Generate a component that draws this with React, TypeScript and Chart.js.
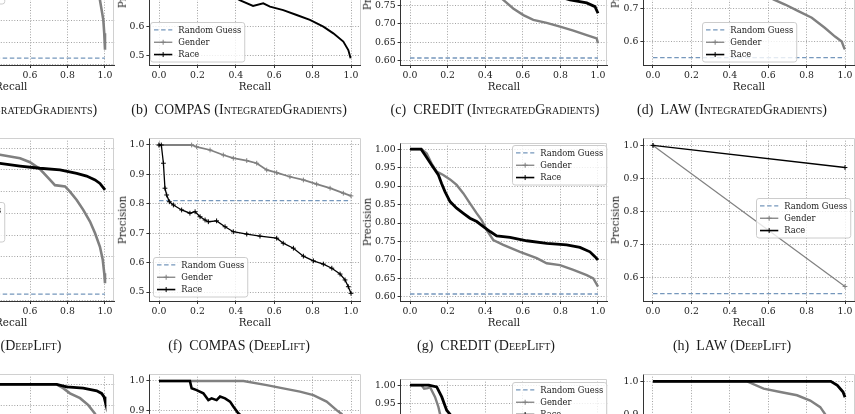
import { useEffect, useRef } from "react";
import { Chart, registerables } from "chart.js";

Chart.register(...registerables);

type Pt = [number, number];

// Recall ticks shared by every panel
const recallTicks = [0, 0.2, 0.4, 0.6, 0.8, 1.0];

// Precision ticks per dataset
const adultTicks = [0.65, 0.7, 0.75, 0.8, 0.85, 0.9, 0.95, 1.0];
const compasTicks = [0.5, 0.6, 0.7, 0.8, 0.9, 1.0];
const creditTicks = [0.6, 0.65, 0.7, 0.75, 0.8, 0.85, 0.9, 0.95, 1.0];
const lawTicks = [0.6, 0.7, 0.8, 0.9, 1.0];

// Precision of a random guess (share of positives) per dataset
const adultGuess = 0.664;
const compasGuess = 0.8105;
const creditGuess = 0.608;
const lawGuess = 0.5515;

// Precision-recall curves, [recall, precision]
const adultIgGender: Pt[] = [[0, 1.0], [0.04, 1.0], [0.12, 0.996], [0.25, 0.99], [0.4, 0.98], [0.55, 0.965], [0.68, 0.945], [0.78, 0.92], [0.86, 0.89], [0.92, 0.855], [0.955, 0.825], [0.973, 0.798], [0.982, 0.775], [0.991, 0.752], [0.996, 0.721], [1.0, 0.683]];
const adultIgRace: Pt[] = [[0, 1.0], [0.06, 0.995], [0.2, 0.988], [0.4, 0.978], [0.6, 0.965], [0.8, 0.948], [0.92, 0.93], [0.98, 0.91], [1.0, 0.885]];

const compasIgGender: Pt[] = [[0, 1.0], [0.12, 1.0], [0.2, 0.99], [0.35, 0.965], [0.5, 0.94], [0.65, 0.91], [0.8, 0.88], [0.9, 0.86], [1.0, 0.835]];
const compasIgRace: Pt[] = [[0, 1.0], [0.012, 1.0], [0.03, 0.87], [0.06, 0.81], [0.12, 0.785], [0.2, 0.765], [0.3, 0.735], [0.38, 0.705], [0.42, 0.689], [0.49, 0.669], [0.543, 0.678], [0.578, 0.667], [0.647, 0.655], [0.717, 0.638], [0.786, 0.621], [0.856, 0.598], [0.908, 0.575], [0.96, 0.547], [0.986, 0.518], [0.998, 0.49]];

const creditIgGender: Pt[] = [[0, 1.0], [0.05, 1.0], [0.1, 0.975], [0.2, 0.925], [0.3, 0.87], [0.38, 0.82], [0.45, 0.785], [0.496, 0.765], [0.549, 0.742], [0.603, 0.724], [0.656, 0.711], [0.727, 0.703], [0.798, 0.693], [0.869, 0.682], [0.94, 0.67], [0.993, 0.661], [1.0, 0.648]];
const creditIgRace: Pt[] = [[0, 1.0], [0.06, 1.0], [0.15, 0.96], [0.3, 0.9], [0.45, 0.85], [0.6, 0.81], [0.72, 0.785], [0.851, 0.765], [0.94, 0.757], [0.984, 0.747], [1.0, 0.729]];

const lawIgGender: Pt[] = [[0, 1.0], [0.1, 0.975], [0.2, 0.94], [0.3, 0.9], [0.4, 0.84], [0.5, 0.78], [0.627, 0.7275], [0.688, 0.712], [0.757, 0.692], [0.827, 0.672], [0.896, 0.641], [0.948, 0.615], [0.983, 0.6], [0.996, 0.58], [1.0, 0.576]];
const lawIgRace: Pt[] = [[0, 1.0], [0.3, 0.99], [0.6, 0.975], [0.85, 0.96], [1.0, 0.94]];

const adultDlGender: Pt[] = [[0, 1.0], [0.1, 0.998], [0.25, 0.993], [0.44, 0.985], [0.547, 0.977], [0.6, 0.968], [0.653, 0.952], [0.707, 0.927], [0.733, 0.915], [0.787, 0.912], [0.813, 0.9], [0.849, 0.881], [0.884, 0.858], [0.92, 0.831], [0.947, 0.804], [0.973, 0.773], [0.988, 0.743], [0.996, 0.712], [1.0, 0.689]];
const adultDlRace: Pt[] = [[0, 1.0], [0.02, 0.99], [0.1, 0.98], [0.25, 0.972], [0.44, 0.965], [0.547, 0.959], [0.653, 0.954], [0.76, 0.95], [0.849, 0.942], [0.902, 0.936], [0.947, 0.927], [0.973, 0.919], [1.0, 0.904]];

const compasDlGender: Pt[] = [[0, 1.0], [0.17, 1.0], [0.196, 0.994], [0.266, 0.983], [0.335, 0.966], [0.387, 0.955], [0.457, 0.947], [0.509, 0.938], [0.561, 0.915], [0.613, 0.906], [0.682, 0.892], [0.752, 0.881], [0.821, 0.867], [0.891, 0.853], [0.96, 0.836], [1.0, 0.827]];
const compasDlRace: Pt[] = [[0, 1.0], [0.012, 1.0], [0.023, 0.938], [0.031, 0.853], [0.04, 0.83], [0.054, 0.807], [0.075, 0.796], [0.118, 0.779], [0.161, 0.768], [0.188, 0.773], [0.214, 0.756], [0.24, 0.745], [0.257, 0.739], [0.3, 0.742], [0.344, 0.722], [0.387, 0.705], [0.457, 0.697], [0.526, 0.69], [0.613, 0.683], [0.647, 0.666], [0.7, 0.649], [0.752, 0.622], [0.804, 0.606], [0.856, 0.595], [0.9, 0.581], [0.943, 0.561], [0.969, 0.541], [0.986, 0.518], [1.0, 0.4955]];

const creditDlGender: Pt[] = [[0, 1.0], [0.062, 1.0], [0.089, 0.988], [0.115, 0.961], [0.142, 0.939], [0.177, 0.93], [0.213, 0.918], [0.248, 0.903], [0.284, 0.88], [0.319, 0.853], [0.355, 0.826], [0.381, 0.808], [0.408, 0.781], [0.443, 0.754], [0.496, 0.741], [0.585, 0.722], [0.674, 0.705], [0.727, 0.691], [0.798, 0.686], [0.869, 0.673], [0.94, 0.659], [0.975, 0.65], [1.0, 0.628]];
const creditDlRace: Pt[] = [[0, 1.0], [0.059, 1.0], [0.08, 0.984], [0.115, 0.957], [0.151, 0.93], [0.168, 0.907], [0.186, 0.885], [0.213, 0.858], [0.248, 0.84], [0.284, 0.826], [0.319, 0.813], [0.355, 0.804], [0.39, 0.79], [0.426, 0.777], [0.461, 0.765], [0.532, 0.761], [0.621, 0.752], [0.727, 0.745], [0.833, 0.741], [0.904, 0.734], [0.957, 0.722], [0.984, 0.709], [1.0, 0.7]];

const lawDlGender: Pt[] = [[0, 1.0], [1.0, 0.573]];
const lawDlRace: Pt[] = [[0, 1.0], [1.0, 0.933]];

const adultSalGender: Pt[] = [[0, 1.0], [0.742, 1.0], [0.777, 0.991], [0.813, 0.979], [0.867, 0.968], [0.911, 0.952], [0.947, 0.932], [0.97, 0.9], [0.99, 0.85], [1.0, 0.8]];
const adultSalRace: Pt[] = [[0, 1.0], [0.742, 1.0], [0.796, 0.994], [0.884, 0.991], [0.956, 0.985], [0.982, 0.979], [0.995, 0.971], [1.0, 0.962]];

const compasSalGender: Pt[] = [[0, 1.0], [0.44, 1.0], [0.561, 0.986], [0.647, 0.975], [0.734, 0.964], [0.804, 0.952], [0.873, 0.93], [0.925, 0.901], [0.951, 0.888], [0.98, 0.86], [1.0, 0.83]];
const compasSalRace: Pt[] = [[0, 1.0], [0.161, 1.0], [0.17, 0.975], [0.196, 0.969], [0.231, 0.958], [0.257, 0.935], [0.274, 0.941], [0.3, 0.935], [0.318, 0.947], [0.344, 0.941], [0.37, 0.93], [0.387, 0.913], [0.413, 0.89], [0.5, 0.84], [0.6, 0.79], [0.7, 0.745], [0.8, 0.7], [0.9, 0.65], [1.0, 0.6]];

const creditSalGender: Pt[] = [[0, 1.0], [0.06, 1.0], [0.075, 0.99], [0.095, 0.992], [0.106, 0.995], [0.133, 0.968], [0.151, 0.941], [0.16, 0.921], [0.2, 0.87], [0.3, 0.8], [0.4, 0.76], [0.6, 0.72], [0.8, 0.69], [1.0, 0.64]];
const creditSalRace: Pt[] = [[0, 1.0], [0.1, 1.0], [0.142, 0.995], [0.169, 0.968], [0.195, 0.932], [0.213, 0.921], [0.25, 0.88], [0.3, 0.84], [0.4, 0.8], [0.5, 0.775], [0.7, 0.755], [0.9, 0.735], [1.0, 0.7]];

const lawSalGender: Pt[] = [[0, 1.0], [0.49, 1.0], [0.576, 0.978], [0.663, 0.968], [0.75, 0.958], [0.819, 0.942], [0.871, 0.922], [0.897, 0.9], [0.95, 0.82], [1.0, 0.7]];
const lawSalRace: Pt[] = [[0, 1.0], [0.926, 1.0], [0.96, 0.988], [0.99, 0.968], [1.0, 0.952]];

// ---- layout of the grid of axes (page pixels) ----
const COLS = [
  { x0: -82.5, x1: 105 },
  { x0: 159, x1: 351 },
  { x0: 410, x1: 598 },
  { x0: 653, x1: 845 },
];
const PLOT_HEIGHT = [163, 163, 158, 163];
const ROW_BOTTOM = [65, 301, 537];
const YLABEL_GAP = [28, 27.7, 33.3, 28.4];

const GUESS_COLOR = "#7597bc";
const GENDER_COLOR = "#808080";
const RACE_COLOR = "#000000";
const TEXT_COLOR = "#222222";
const SERIF = '"DejaVu Serif", serif';

interface Panel {
  key: string;
  col: number;
  row: number;
  name: string;
  method: string;
  gender: Pt[];
  race: Pt[];
  guess: number;
  yRange: [number, number];
  yTicks: number[];
  digits: number;
  legend: [number, number];
  widths: [number, number];
  markers: boolean;
  captionX: number;
}

const panels: Panel[] = [
  { key: "a", col: 0, row: 0, name: "ADULT", method: "IntegratedGradients", gender: adultIgGender, race: adultIgRace, guess: adultGuess, yRange: [0.648, 1.0237], yTicks: adultTicks, digits: 2, legend: [-90, -36], widths: [2.6, 2.6], markers: false, captionX: -5 },
  { key: "b", col: 1, row: 0, name: "COMPAS", method: "IntegratedGradients", gender: compasIgGender, race: compasIgRace, guess: compasGuess, yRange: [0.4666, 1.0254], yTicks: compasTicks, digits: 1, legend: [150, 22], widths: [2, 1.9], markers: false, captionX: 239 },
  { key: "c", col: 2, row: 0, name: "CREDIT", method: "IntegratedGradients", gender: creditIgGender, race: creditIgRace, guess: creditGuess, yRange: [0.589, 1.0165], yTicks: creditTicks, digits: 2, legend: [512, -91], widths: [2.4, 2.8], markers: false, captionX: 495 },
  { key: "d", col: 3, row: 0, name: "LAW", method: "IntegratedGradients", gender: lawIgGender, race: lawIgRace, guess: lawGuess, yRange: [0.529, 1.0224], yTicks: lawTicks, digits: 1, legend: [702, 22], widths: [2.4, 2.4], markers: false, captionX: 732 },
  { key: "e", col: 0, row: 1, name: "ADULT", method: "DeepLift", gender: adultDlGender, race: adultDlRace, guess: adultGuess, yRange: [0.648, 1.0237], yTicks: adultTicks, digits: 2, legend: [-90, 202], widths: [2.6, 2.8], markers: false, captionX: -5 },
  { key: "f", col: 1, row: 1, name: "COMPAS", method: "DeepLift", gender: compasDlGender, race: compasDlRace, guess: compasGuess, yRange: [0.4694, 1.0238], yTicks: compasTicks, digits: 1, legend: [153, 257], widths: [1.8, 1.3], markers: true, captionX: 239 },
  { key: "g", col: 2, row: 1, name: "CREDIT", method: "DeepLift", gender: creditDlGender, race: creditDlRace, guess: creditGuess, yRange: [0.589, 1.0165], yTicks: creditTicks, digits: 2, legend: [512, 145], widths: [2.4, 2.8], markers: false, captionX: 486 },
  { key: "h", col: 3, row: 1, name: "LAW", method: "DeepLift", gender: lawDlGender, race: lawDlRace, guess: lawGuess, yRange: [0.529, 1.0224], yTicks: lawTicks, digits: 1, legend: [756, 198], widths: [1.2, 1.4], markers: true, captionX: 732 },
  { key: "i", col: 0, row: 2, name: "ADULT", method: "Saliency", gender: adultSalGender, race: adultSalRace, guess: adultGuess, yRange: [0.648, 1.0237], yTicks: adultTicks, digits: 2, legend: [-90, 438], widths: [2.6, 2.8], markers: false, captionX: -5 },
  { key: "j", col: 1, row: 2, name: "COMPAS", method: "Saliency", gender: compasSalGender, race: compasSalRace, guess: compasGuess, yRange: [0.4694, 1.0238], yTicks: compasTicks, digits: 1, legend: [153, 493], widths: [2.4, 2.6], markers: false, captionX: 239 },
  { key: "k", col: 2, row: 2, name: "CREDIT", method: "Saliency", gender: creditSalGender, race: creditSalRace, guess: creditGuess, yRange: [0.589, 1.0165], yTicks: creditTicks, digits: 2, legend: [512, 382], widths: [2.4, 2.8], markers: false, captionX: 486 },
  { key: "l", col: 3, row: 2, name: "LAW", method: "Saliency", gender: lawSalGender, race: lawSalRace, guess: lawGuess, yRange: [0.529, 1.0224], yTicks: lawTicks, digits: 1, legend: [756, 434], widths: [2.4, 2.8], markers: false, captionX: 732 },
];

function frameOf(p: Panel) {
  const c = COLS[p.col];
  const span = c.x1 - c.x0;
  const left = c.x0 - 0.05 * span;
  const right = c.x1 + 0.05 * span;
  const bottom = ROW_BOTTOM[p.row];
  const top = bottom - PLOT_HEIGHT[p.col];
  return { left, right, top, bottom };
}

// light top/right edges of the axes box
const frameEdges = {
  id: "frameEdges",
  beforeDatasetsDraw(chart: any) {
    const { ctx, chartArea: a } = chart;
    ctx.save();
    ctx.strokeStyle = "#d0d0d0";
    ctx.lineWidth = 1;
    const t = Math.round(a.top) + 0.5;
    const r = Math.round(a.right) - 0.5;
    ctx.beginPath();
    ctx.moveTo(a.left, t);
    ctx.lineTo(r, t);
    ctx.lineTo(r, a.bottom);
    ctx.stroke();
    ctx.restore();
  },
};

// framed legend box placed at a fixed spot inside the axes
const boxLegend = {
  id: "boxLegend",
  afterDatasetsDraw(chart: any, _args: any, opts: any) {
    const { ctx } = chart;
    const sets = chart.data.datasets;
    ctx.save();
    ctx.font = `8.3px ${SERIF}`;
    const textW = Math.max(...sets.map((d: any) => ctx.measureText(d.label).width));
    const padX = 3.5, handle = 18.3, gap = 6, rowH = 12.3, padY = 1.3;
    const w = padX + handle + gap + textW + padX;
    const h = padY * 2 + rowH * sets.length;
    const x = Math.round(opts.x) + 0.5;
    const y = Math.round(opts.y) + 0.5;
    ctx.beginPath();
    ctx.roundRect(x, y, w, h, 2.5);
    ctx.fillStyle = "rgba(255,255,255,0.8)";
    ctx.fill();
    ctx.strokeStyle = "#cccccc";
    ctx.lineWidth = 1;
    ctx.stroke();
    sets.forEach((d: any, i: number) => {
      const cy = y + padY + rowH * (i + 0.5);
      const x0 = x + padX;
      const x1 = x0 + handle;
      ctx.setLineDash(d.borderDash || []);
      ctx.strokeStyle = d.borderColor;
      ctx.lineWidth = d.legendWidth;
      ctx.beginPath();
      ctx.moveTo(x0, cy);
      ctx.lineTo(x1, cy);
      ctx.stroke();
      ctx.setLineDash([]);
      if (d.legendMarker) {
        const mx = (x0 + x1) / 2;
        ctx.lineWidth = 1;
        ctx.beginPath();
        ctx.moveTo(mx - 2.5, cy);
        ctx.lineTo(mx + 2.5, cy);
        ctx.moveTo(mx, cy - 2.5);
        ctx.lineTo(mx, cy + 2.5);
        ctx.stroke();
      }
      ctx.fillStyle = "#222";
      ctx.textBaseline = "middle";
      ctx.textAlign = "left";
      ctx.fillText(d.label, x1 + gap, cy + 0.5);
    });
    ctx.restore();
  },
};

function PanelView({ p }: { p: Panel }) {
  const ref = useRef<HTMLCanvasElement>(null);
  const f = frameOf(p);
  const cl = Math.floor(f.left) - 46;
  const ct = f.top - 10;
  const cw = Math.ceil(f.right) + 10 - cl;
  const ch = f.bottom + 26 - ct;

  useEffect(() => {
    const toXY = (pts: Pt[]) => pts.map(([x, y]) => ({ x, y }));
    const tickFont = { family: SERIF, size: 9.3 };
    const gridCommon = {
      color: "#a2a2a2",
      lineWidth: 1,
      tickLength: 3,
      tickColor: "#333",
      tickWidth: 1,
    };
    const borderCommon = { color: "#333", width: 1, dash: [1, 1.7] };
    const chart = new Chart(ref.current!, {
      type: "line",
      data: {
        datasets: [
          {
            label: "Random Guess",
            data: toXY([[0, p.guess], [1, p.guess]]),
            borderColor: GUESS_COLOR,
            borderDash: [4.5, 2.6],
            borderWidth: 1.3,
            pointRadius: 0,
            order: 2,
            legendWidth: 1.2,
          } as any,
          {
            label: "Gender",
            data: toXY(p.gender),
            borderColor: GENDER_COLOR,
            borderWidth: p.widths[0],
            pointRadius: p.markers ? 2.4 : 0,
            pointStyle: "cross",
            pointBorderColor: GENDER_COLOR,
            pointBorderWidth: 1,
            order: 1,
            legendWidth: 1.3,
            legendMarker: true,
          } as any,
          {
            label: "Race",
            data: toXY(p.race),
            borderColor: RACE_COLOR,
            borderWidth: p.widths[1],
            pointRadius: p.markers ? 2.4 : 0,
            pointStyle: "cross",
            pointBorderColor: RACE_COLOR,
            pointBorderWidth: 1,
            order: 0,
            legendWidth: 1.6,
            legendMarker: true,
          } as any,
        ],
      },
      options: {
        animation: false,
        responsive: false,
        devicePixelRatio: 1,
        events: [],
        layout: { padding: { left: 0, top: 10, right: cl + cw - f.right, bottom: 0 } },
        elements: { line: { tension: 0 } },
        plugins: {
          legend: { display: false },
          tooltip: { enabled: false },
          boxLegend: { x: p.legend[0] - cl, y: p.legend[1] - ct },
        } as any,
        scales: {
          x: {
            type: "linear",
            min: -0.05,
            max: 1.05,
            afterBuildTicks: (s: any) => {
              s.ticks = recallTicks.map((v) => ({ value: v }));
            },
            afterFit: (s: any) => {
              s.height = 26;
            },
            ticks: {
              font: tickFont,
              color: TEXT_COLOR,
              padding: 2,
              maxRotation: 0,
              autoSkip: false,
              callback: (v: any) => Number(v).toFixed(1),
            },
            grid: gridCommon,
            border: borderCommon,
          },
          y: {
            type: "linear",
            min: p.yRange[0],
            max: p.yRange[1],
            afterBuildTicks: (s: any) => {
              s.ticks = p.yTicks.map((v) => ({ value: v }));
            },
            afterFit: (s: any) => {
              s.width = f.left - cl;
            },
            ticks: {
              font: tickFont,
              color: TEXT_COLOR,
              padding: 2,
              autoSkip: false,
              callback: (v: any) => Number(v).toFixed(p.digits),
            },
            grid: gridCommon,
            border: borderCommon,
          },
        } as any,
      },
      plugins: [frameEdges, boxLegend],
    } as any);
    return () => chart.destroy();
  }, []);

  const titleStyle: any = {
    position: "absolute",
    fontFamily: SERIF,
    fontSize: 10.3,
    color: TEXT_COLOR,
    whiteSpace: "nowrap",
    lineHeight: 1,
  };

  return (
    <>
      <canvas
        ref={ref}
        width={cw}
        height={ch}
        style={{ position: "absolute", left: cl, top: ct, width: cw, height: ch }}
      />
      <div
        style={{
          ...titleStyle,
          left: (f.left + f.right) / 2,
          top: f.bottom + 21,
          transform: "translate(-50%, -50%)",
        }}
      >
        Recall
      </div>
      <div
        style={{
          ...titleStyle,
          left: f.left - YLABEL_GAP[p.col],
          top: (f.top + f.bottom) / 2,
          transform: "translate(-50%, -50%) rotate(-90deg)",
        }}
      >
        Precision
      </div>
      {p.row < 2 && (
        <div
          style={{
            position: "absolute",
            left: p.captionX,
            top: f.bottom + 45,
            transform: "translate(-50%, -50%)",
            fontFamily: '"Liberation Serif", serif',
            fontSize: 14,
            color: "#1a1a1a",
            whiteSpace: "nowrap",
            lineHeight: 1,
          }}
        >
          ({p.key})&ensp;{p.name} (<span style={{ fontVariant: "small-caps" }}>{p.method}</span>)
        </div>
      )}
    </>
  );
}

export default function App() {
  return (
    <div
      style={{
        position: "fixed",
        left: 0,
        top: 0,
        width: 855,
        height: 414,
        overflow: "hidden",
        background: "#fff",
      }}
    >
      {panels.map((p) => (
        <PanelView key={p.key} p={p} />
      ))}
    </div>
  );
}
